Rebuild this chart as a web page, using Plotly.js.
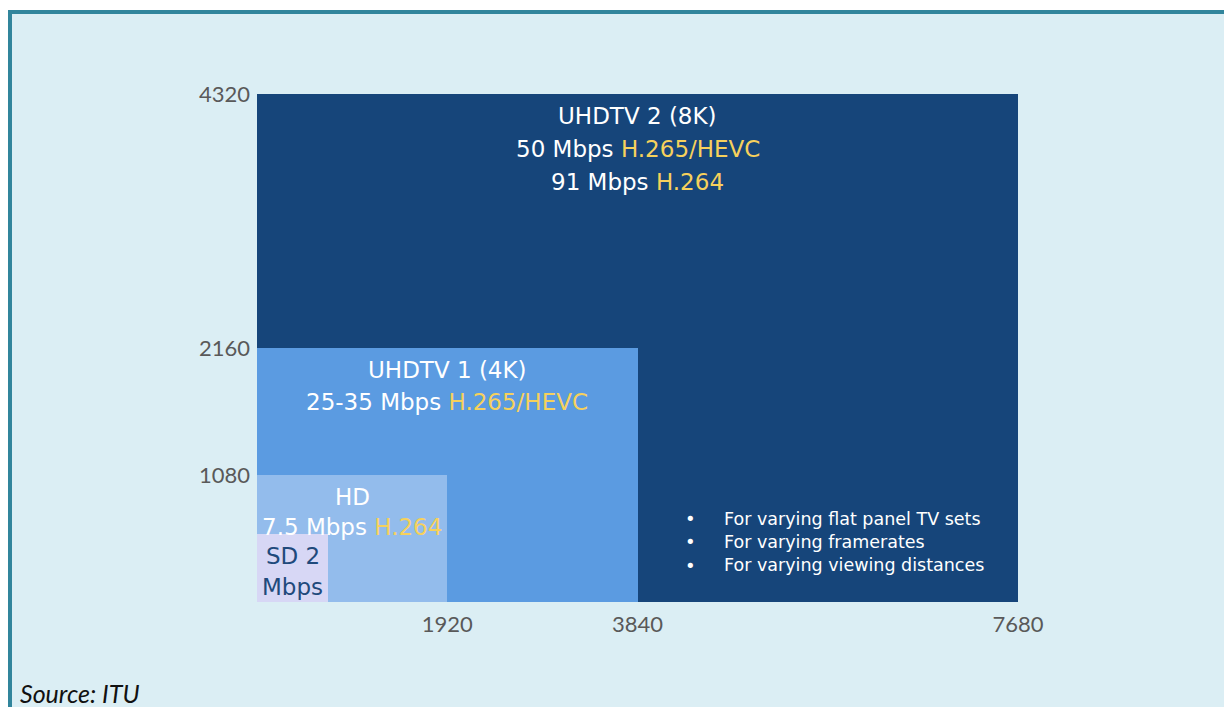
<!DOCTYPE html>
<html>
<head>
<meta charset="utf-8">
<script src="https://cdn.plot.ly/plotly-3.0.1.min.js"></script>
<style>
  html, body { margin: 0; padding: 0; background: #ffffff; }
  #frame { position: absolute; left: 8px; top: 10px; width: 1216px; height: 697px;
           background: #dbeef4; border-top: 4px solid #31859c; border-left: 4px solid #31859c; box-sizing: border-box; }
  #chart { position: absolute; left: 0; top: 0; width: 1224px; height: 707px; }
</style>
</head>
<body>
<div id="frame"></div>
<div id="chart"></div>
<script>
// Formats, drawn largest first so smaller ones sit on top
const formats = ['UHDTV 2 (8K)', 'UHDTV 1 (4K)', 'HD', 'SD'];
const widths  = [7680, 3840, 1920, 720];
const heights = [4320, 2160, 1080, 576];
const colors  = ['#16457a', '#5b9be1', '#93bcec', '#d7d7f5'];
// Label lines per format: [white part, yellow codec part]
const labelLines = [
  [['UHDTV 2 (8K)', ''], ['50 Mbps ', 'H.265/HEVC'], ['91 Mbps ', 'H.264']],
  [['UHDTV 1 (4K)', ''], ['25-35 Mbps ', 'H.265/HEVC']],
  [['HD', ''], ['7.5 Mbps ', 'H.264']],
  [['SD 2', ''], ['Mbps', '']]
];
const labelColors = ['#ffffff', '#ffffff', '#ffffff', '#1f4a7c'];
const codecColor = '#f6d15c';
const xTicks = [1920, 3840, 7680];
const yTicks = [1080, 2160, 4320];
const notes = ['For varying flat panel TV sets', 'For varying framerates', 'For varying viewing distances'];
const source = 'Source: ITU';

const textFont = 'DejaVu Sans, sans-serif';
const tickFont = 'Lato, Open Sans, sans-serif';
const lineGap = [33, 32, 30, 31];

const traces = formats.map((f, i) => ({
  type: 'bar',
  name: f,
  x: [widths[i] / 2],
  y: [heights[i]],
  width: [widths[i]],
  marker: { color: colors[i], line: { width: 0 } },
  hoverinfo: 'skip',
  showlegend: false
}));

const annotations = [];
formats.forEach((f, i) => {
  labelLines[i].forEach((ln, j) => {
    let t = ln[0];
    if (ln[1]) t += '<span style="color:' + codecColor + '">' + ln[1] + '</span>';
    annotations.push({
      xref: 'x', yref: 'y', x: widths[i] / 2, y: heights[i],
      xanchor: 'center', yanchor: 'middle',
      yshift: -(22 + j * lineGap[i]),
      text: t, showarrow: false,
      font: { family: textFont, size: 23, color: labelColors[i] }
    });
  });
});

annotations.push({
  xref: 'paper', yref: 'paper', x: 0.569, y: 0.118, xanchor: 'center', yanchor: 'middle',
  text: notes.map(() => '•').join('<br>'), showarrow: false, align: 'center',
  font: { family: textFont, size: 18, color: '#ffffff' }
});
annotations.push({
  xref: 'paper', yref: 'paper', x: 0.611, y: 0.118, xanchor: 'left', yanchor: 'middle',
  text: notes.join('<br>'), showarrow: false, align: 'left',
  font: { family: textFont, size: 17.5, color: '#ffffff' }
});
annotations.push({
  xref: 'paper', yref: 'paper', x: -0.3135, y: -0.179, xanchor: 'left', yanchor: 'middle',
  text: '<i>' + source + '</i>', showarrow: false, align: 'left',
  font: { family: tickFont, size: 25, color: '#111111' }
});

const layout = {
  width: 1224, height: 707,
  margin: { l: 257, r: 206, t: 94, b: 105, pad: 0 },
  paper_bgcolor: 'rgba(0,0,0,0)',
  plot_bgcolor: 'rgba(0,0,0,0)',
  barmode: 'overlay',
  bargap: 0,
  showlegend: false,
  xaxis: {
    range: [0, 7680], fixedrange: true, showgrid: false, zeroline: false,
    showline: false, ticks: '', tickmode: 'array', tickvals: xTicks,
    ticktext: xTicks.map(String), ticklabelstandoff: 7,
    tickfont: { family: tickFont, size: 22, color: '#595959' }
  },
  yaxis: {
    range: [0, 4320], fixedrange: true, showgrid: false, zeroline: false,
    showline: false, ticks: '', tickmode: 'array', tickvals: yTicks,
    ticktext: yTicks.map(String), ticklabelstandoff: 6,
    tickfont: { family: tickFont, size: 22, color: '#595959' }
  },
  annotations: annotations
};

Plotly.newPlot('chart', traces, layout, { displayModeBar: false, staticPlot: true });
</script>
</body>
</html>
